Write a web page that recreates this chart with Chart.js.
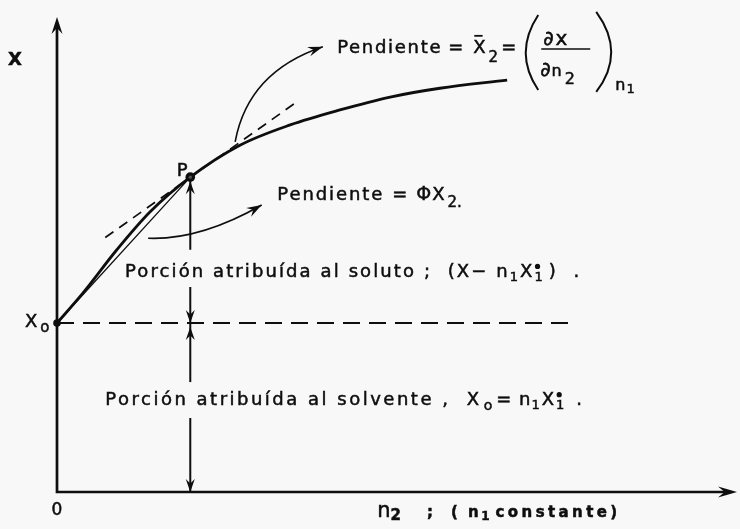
<!DOCTYPE html>
<html lang="es">
<head>
<meta charset="UTF-8">
<title>Volumen molar parcial</title>
<script src="https://cdn.jsdelivr.net/npm/chart.js"></script>
<style>
    html, body { margin: 0; padding: 0; background: #f8f8f8; }
    #caja { width: 740px; height: 529px; }
</style>
</head>
<body>
<div id="caja"><canvas id="grafico" width="740" height="529"></canvas></div>
<script>
    // curva X frente a n2 (n1 constante)
    var curvaN2 = [0, 0.38, 0.88, 1.37, 1.96, 2.69, 3.43, 4.16, 4.90, 5.63, 6.62];
    var curvaX = [2.49, 2.93, 3.57, 4.13, 4.64, 5.11, 5.41, 5.63, 5.82, 5.95, 6.07];
    // punto P y ordenada en el origen X_o
    var puntoP = [1.96, 4.64];
    var xCero = 2.49;
    // tangente en P
    var tangN2 = [0.71, 3.50];
    var tangX = [3.75, 5.73];
    // fin de la discontinua horizontal
    var finHoriz = 7.59;
    // tramos verticales con flecha (desde -> hasta)
    var tramoDesde = [3.57, 3.02, 1.62, 1.09];
    var tramoHasta = [4.64, 2.49, 2.49, 0];
    // limites de los ejes
    var ejeN2 = [0, 10];
    var ejeX = [0, 7];

    var tinta = '#0e0e0e';
    var fondo = '#f8f8f8';

    function puntos(xs, ys) {
        return xs.map(function (v, i) { return { x: v, y: ys[i] }; });
    }

    var datasets = [
        { data: puntos(curvaN2, curvaX), borderWidth: 2.8, cubicInterpolationMode: 'monotone' },
        { data: puntos([0, puntoP[0]], [xCero, puntoP[1]]), borderWidth: 1.3 },
        { data: puntos(tangN2, tangX), borderWidth: 1.7, borderDash: [10, 7] },
        { data: puntos([0, finHoriz], [xCero, xCero]), borderWidth: 1.9, borderDash: [17, 9] }
    ];
    tramoDesde.forEach(function (d, i) {
        datasets.push({ data: puntos([puntoP[0], puntoP[0]], [d, tramoHasta[i]]), borderWidth: 2 });
    });
    datasets.forEach(function (d) {
        d.showLine = true;
        d.borderColor = tinta;
        d.pointRadius = 0;
        d.clip = false;
    });

    function punta(ctx, x, y, ang, L, W) {
        ctx.save();
        ctx.translate(x, y);
        ctx.rotate(ang);
        ctx.beginPath();
        ctx.moveTo(0, 0);
        ctx.lineTo(-L, -W);
        ctx.lineTo(-L * 0.65, 0);
        ctx.lineTo(-L, W);
        ctx.closePath();
        ctx.fill();
        ctx.restore();
    }

    // texto con subindices, barras y puntos
    function escribe(ctx, x, y, trozos) {
        trozos.forEach(function (t) {
            var s = t.s || 18;
            ctx.font = (t.b ? 'bold ' : '') + s + 'px "DejaVu Sans"';
            ctx.letterSpacing = (t.ls != null ? t.ls : 2.1) + 'px';
            var yy = y + (t.dy || 0);
            ctx.fillText(t.t, x, yy);
            ctx.lineWidth = 0.5;
            ctx.strokeText(t.t, x, yy);
            var w = ctx.measureText(t.t).width;
            if (t.barra) {
                ctx.lineWidth = 1.8;
                ctx.beginPath();
                ctx.moveTo(x + 1, yy - s * 0.73 - 4);
                ctx.lineTo(x + w - 3, yy - s * 0.73 - 4);
                ctx.stroke();
            }
            if (t.punto) {
                ctx.beginPath();
                ctx.arc(x + (w - 2) / 2, yy - s * 0.73 - 5, 2.6, 0, Math.PI * 2);
                ctx.fill();
            }
            x += w + (t.g || 0);
        });
        return x;
    }

    function curva(ctx, a, c, b) {
        ctx.beginPath();
        ctx.moveTo(a[0], a[1]);
        ctx.quadraticCurveTo(c[0], c[1], b[0], b[1]);
        ctx.stroke();
        punta(ctx, b[0], b[1], Math.atan2(b[1] - c[1], b[0] - c[0]), 15, 5);
    }

    var dibujo = {
        id: 'dibujo',
        afterDatasetsDraw: function (chart) {
            var ctx = chart.ctx;
            var sx = chart.scales.x, sy = chart.scales.y;
            function px(a, b) { return [sx.getPixelForValue(a), sy.getPixelForValue(b)]; }
            ctx.save();
            ctx.strokeStyle = tinta;
            ctx.fillStyle = tinta;

            // ejes
            var o = px(0, 0), xf = px(ejeN2[1], 0), yf = px(0, ejeX[1]);
            ctx.lineWidth = 2.7;
            ctx.beginPath();
            ctx.moveTo(yf[0], yf[1] + 6); ctx.lineTo(o[0], o[1]); ctx.lineTo(xf[0] - 6, xf[1]);
            ctx.stroke();
            punta(ctx, yf[0], yf[1], -Math.PI / 2, 17, 5.5);
            punta(ctx, xf[0], xf[1], 0, 19, 5.5);

            // puntas de los tramos verticales
            tramoDesde.forEach(function (d, i) {
                var h = px(puntoP[0], tramoHasta[i]);
                var sube = tramoHasta[i] > d;
                punta(ctx, h[0], h[1] + (sube ? 4 : 0), sube ? -Math.PI / 2 : Math.PI / 2, 13, 4.5);
            });

            // marcas en P y X_o
            var p = px(puntoP[0], puntoP[1]);
            ctx.beginPath(); ctx.arc(p[0], p[1], 4.8, 0, Math.PI * 2); ctx.fill();
            ctx.fillStyle = '#555';
            ctx.beginPath(); ctx.arc(p[0], p[1], 1.6, 0, Math.PI * 2); ctx.fill();
            ctx.fillStyle = tinta;
            var x0 = px(0, xCero);
            ctx.beginPath(); ctx.arc(x0[0], x0[1], 3.8, 0, Math.PI * 2); ctx.fill();

            // flechas curvas hacia las pendientes
            ctx.lineWidth = 1.6;
            curva(ctx, px(2.62, 5.16), px(2.81, 6.19), px(3.91, 6.56));
            curva(ctx, px(1.34, 3.74), px(2.10, 3.71), px(3.01, 4.23));

            ctx.textBaseline = 'alphabetic';
            ctx.textAlign = 'left';

            // rotulos de los ejes y del punto P
            var e = px(-0.72, 6.29);
            escribe(ctx, e[0], e[1], [{ t: 'X', b: true, s: 18, ls: 0 }]);
            e = px(-0.47, 2.43);
            escribe(ctx, e[0], e[1], [{ t: 'X', s: 18, ls: 0, g: 3 }, { t: 'o', s: 15, dy: 5, ls: 0 }]);
            e = px(-0.08, -0.34);
            escribe(ctx, e[0], e[1], [{ t: '0', s: 17, ls: 0 }]);
            e = px(1.76, 4.66);
            escribe(ctx, e[0], e[1], [{ t: 'P', s: 18, ls: 0 }]);
            e = px(4.71, -0.37);
            escribe(ctx, e[0], e[1], [
                { t: 'n', s: 21, ls: 0 }, { t: '2', s: 15, dy: 3, b: true, ls: 0, g: 26 },
                { t: ';  ( n', b: true, s: 15, ls: 2.5 }, { t: '1', s: 12, dy: 3, b: true, ls: 0, g: 6 },
                { t: 'constante)', b: true, s: 15, ls: 3.4 }
            ]);

            // pendiente de la tangente
            e = px(4.12, 6.47);
            var x = escribe(ctx, e[0], e[1], [
                { t: 'Pendiente', ls: 1.7, g: 6 }, { t: '=', ls: 0, g: 10 },
                { t: 'X', barra: true, ls: 0, g: 3 }, { t: '2', s: 15, dy: 9, ls: 0, g: 3 },
                { t: '=', ls: 0 }
            ]);
            var y = e[1];
            ctx.lineWidth = 2;
            ctx.beginPath(); ctx.moveTo(x + 22, y - 38); ctx.quadraticCurveTo(x - 3, y, x + 22, y + 37); ctx.stroke();
            ctx.beginPath(); ctx.moveTo(x + 80, y - 41); ctx.quadraticCurveTo(x + 110, y, x + 80, y + 39); ctx.stroke();
            escribe(ctx, x + 27, y - 8, [{ t: '∂x', s: 20, ls: 2 }]);
            ctx.lineWidth = 1.6;
            ctx.beginPath(); ctx.moveTo(x + 25, y - 4); ctx.lineTo(x + 74, y - 4); ctx.stroke();
            escribe(ctx, x + 24, y + 23, [{ t: '∂', s: 20, ls: 1 }, { t: 'n', s: 16, ls: 0, g: 3 }, { t: '2', s: 16, dy: 8, ls: 0 }]);
            escribe(ctx, x + 99, y + 37, [{ t: 'n', s: 16, ls: 0, g: 1 }, { t: '1', s: 13, dy: 3, ls: 0 }]);

            // pendiente de la cuerda
            e = px(3.24, 4.30);
            escribe(ctx, e[0], e[1], [
                { t: 'Pendiente', ls: 1.9, g: 8 }, { t: '=', ls: 0, g: 9 },
                { t: 'Φ', s: 19, ls: 0, g: 1 }, { t: 'X', ls: 0, g: 3 }, { t: '2', s: 15, dy: 7, ls: 0 }, { t: '.', s: 15, dy: 7 }
            ]);

            // porciones
            e = px(1.0, 3.17);
            escribe(ctx, e[0], e[1], [
                { t: 'Porción atribuída al soluto ;  (X− n', ls: 2.1 }, { t: '1', s: 13, dy: 4, ls: 0, g: 2 },
                { t: 'X', ls: 0, g: 2 }, { t: '1', s: 13, dy: 4, ls: 0, punto: true, g: 6 }, { t: ') .', ls: 6 }
            ]);
            e = px(0.71, 1.28);
            escribe(ctx, e[0], e[1], [
                { t: 'Porción atribuída al solvente ,  X', ls: 2.5, g: 2 }, { t: 'o', s: 14, dy: 5, ls: 0, g: 4 },
                { t: '= n', ls: 1 }, { t: '1', s: 13, dy: 4, ls: 0, g: 2 },
                { t: 'X', ls: 0, g: 2 }, { t: '1', s: 13, dy: 4, ls: 0, punto: true, g: 12 }, { t: '.', ls: 0 }
            ]);
            ctx.restore();
        }
    };

    new Chart(document.getElementById('grafico'), {
        type: 'scatter',
        data: { datasets: datasets },
        options: {
            responsive: false,
            animation: false,
            layout: { padding: { left: 57, right: 3, top: 17, bottom: 37 } },
            plugins: { legend: { display: false }, tooltip: { enabled: false } },
            scales: {
                x: { type: 'linear', min: ejeN2[0], max: ejeN2[1], display: false },
                y: { type: 'linear', min: ejeX[0], max: ejeX[1], display: false }
            }
        },
        plugins: [dibujo]
    });
</script>
</body>
</html>
